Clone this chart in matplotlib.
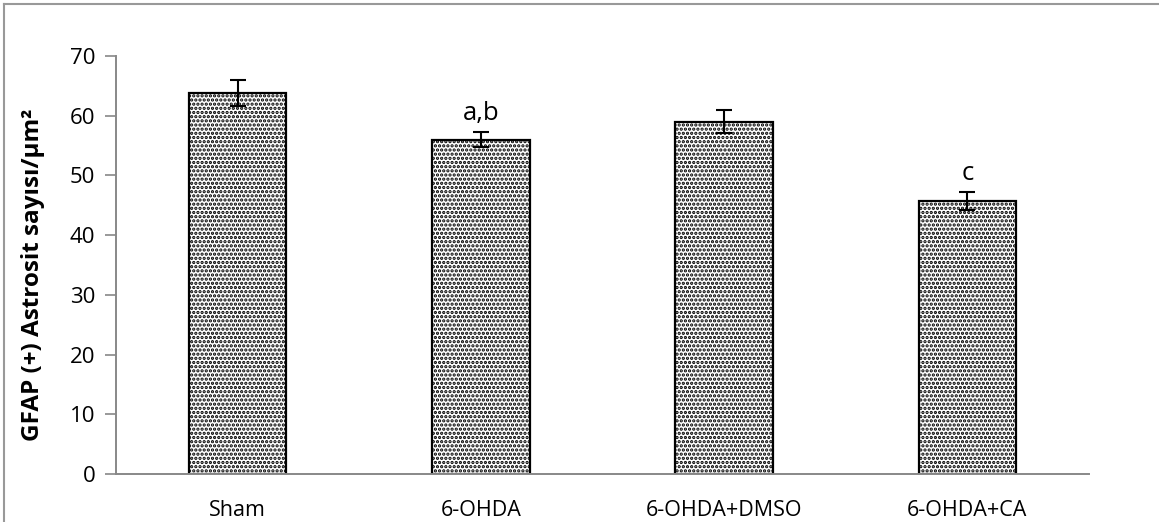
import matplotlib
matplotlib.use("Agg")
import matplotlib.pyplot as plt
from matplotlib.lines import Line2D

groups = ["Sham", "6-OHDA", "6-OHDA+DMSO", "6-OHDA+CA"]
means = [63.8, 56.0, 59.0, 45.7]
errors = [2.1, 1.2, 1.95, 1.5]
letters = ["", "a,b", "", "c"]
y_ticks = [0, 10, 20, 30, 40, 50, 60, 70]

plt.rcParams["font.family"] = ["Open Sans", "DejaVu Sans"]
plt.rcParams["hatch.linewidth"] = 1.6
plt.rcParams["hatch.color"] = "#333333"

W, H = 1159, 522
fig = plt.figure(figsize=(W / 100, H / 100), dpi=100)
ax = fig.add_axes([116 / W, 1 - 474 / H, (1089 - 116) / W, (474 - 56) / H])

x = list(range(len(groups)))
ax.bar(x, means, width=0.40, color="white", edgecolor="black", linewidth=1.6,
       hatch="....", zorder=2)
ax.errorbar(x, means, yerr=errors, fmt="none", ecolor="black", elinewidth=1.5,
            capsize=5.5, capthick=1.5, zorder=3)

for xi, m, e, lab in zip(x, means, errors, letters):
    if lab:
        ax.text(xi, m + e + 1.0, lab, ha="center", va="bottom", fontsize=18.5)

ax.set_xlim(-0.5, len(groups) - 0.5)
ax.set_ylim(0, 70)
ax.set_yticks(y_ticks)
ax.set_xticks(x)
ax.set_xticklabels(groups, fontsize=15.5)
ax.tick_params(axis="x", length=0, pad=19)
ax.tick_params(axis="y", length=8, width=1.2, color="#888888", labelsize=16, pad=7)
for side in ("top", "right"):
    ax.spines[side].set_visible(False)
for side in ("left", "bottom"):
    ax.spines[side].set_color("#888888")
    ax.spines[side].set_linewidth(1.4)

ax.set_ylabel("GFAP (+) Astrosit sayısı/µm²", fontsize=17.5, fontweight="bold")
ax.yaxis.set_label_coords(45 / W, 1 - 275 / H, transform=fig.transFigure)

# chart area frame
fig.add_artist(Line2D([4 / W, 4 / W], [0, 1 - 4 / H], color="#999999", lw=1.5,
                      transform=fig.transFigure))
fig.add_artist(Line2D([4 / W, 1], [1 - 4 / H, 1 - 4 / H], color="#999999", lw=1.5,
                      transform=fig.transFigure))

fig.savefig("out.png", dpi=100)
